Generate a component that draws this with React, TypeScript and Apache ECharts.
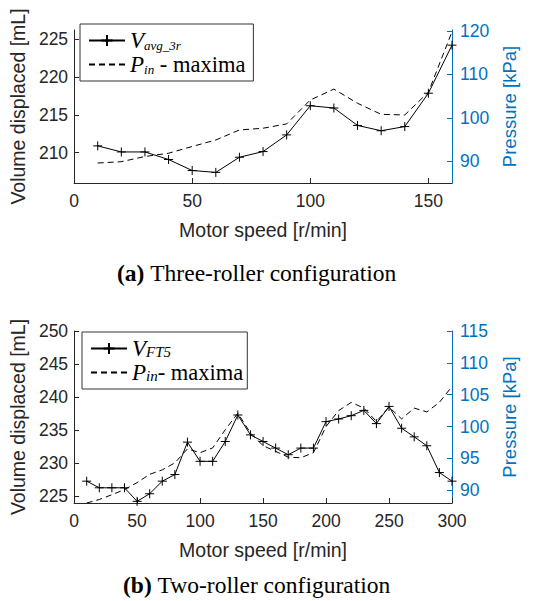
import React, { useEffect, useRef } from 'react';
import * as echarts from 'echarts';

// ---- Data: (a) Three-roller configuration ----
const speedA = [10, 20, 30, 40, 50, 60, 70, 80, 90, 100, 110, 120, 130, 140, 150, 160];
const volumeA = [210.9, 210.1, 210.1, 209.1, 207.65, 207.4, 209.4, 210.15, 212.35, 216.2, 215.9, 213.6, 212.9, 213.45, 217.85, 224.2];
const pressureA = [89.6, 89.9, 91.1, 91.85, 93.4, 94.9, 97.2, 97.6, 98.6, 104.1, 106.6, 103.35, 100.8, 100.65, 105.9, 119.8];

// ---- Data: (b) Two-roller configuration ----
const speedB = [10, 20, 30, 40, 50, 60, 70, 80, 90, 100, 110, 120, 130, 140, 150, 160, 170, 180, 190, 200, 210, 220, 230, 240, 250, 260, 270, 280, 290, 300];
const volumeB = [227.3, 226.3, 226.3, 226.3, 224.25, 225.4, 227.3, 228.3, 233.2, 230.3, 230.3, 233.3, 237.3, 234.3, 233.3, 232.3, 231.3, 232.3, 232.3, 236.3, 236.7, 237.2, 238.0, 236.0, 238.6, 235.3, 234.0, 232.65, 228.6, 227.3];
const pressureB = [88.0, 88.55, 89.3, 90.1, 91.2, 92.5, 93.2, 94.3, 96.5, 95.9, 96.65, 99.5, 102.1, 99.0, 97.0, 96.1, 95.2, 95.1, 95.9, 100.0, 102.5, 103.8, 102.9, 100.8, 103.05, 101.2, 102.9, 102.3, 103.8, 106.3];

// ---- Tick labels ----
const xTicksA = [0, 50, 100, 150];
const volTicksA = [210, 215, 220, 225];
const presTicksA = [90, 100, 110, 120];
const xTicksB = [0, 50, 100, 150, 200, 250, 300];
const volTicksB = [225, 230, 235, 240, 245, 250];
const presTicksB = [90, 95, 100, 105, 110, 115];

const names = {
  vA: 'V_avg_3r',
  pA: 'P_in - maxima',
  vB: 'V_FT5',
  pB: 'P_in- maxima',
};

const axisColor = '#262626';
const blue = '#0072BD';
const sans = '"Liberation Sans", Arial, Helvetica, sans-serif';
const serif = '"Liberation Serif", "Times New Roman", serif';
const plus = 'path://M0,5L10,5M5,0L5,10';

function xAxis(gridIndex: number, max: number, ticks: number[]) {
  return {
    type: 'value',
    gridIndex,
    min: 0,
    max,
    name: 'Motor speed [r/min]',
    nameLocation: 'middle',
    nameGap: 37,
    nameTextStyle: { fontFamily: sans, fontSize: 19.5, color: axisColor },
    axisLine: { show: true, onZero: false, lineStyle: { color: axisColor, width: 1 } },
    axisTick: { show: true, inside: true, length: 5, customValues: ticks, lineStyle: { color: axisColor } },
    axisLabel: { customValues: ticks, fontFamily: sans, fontSize: 17.5, color: axisColor, margin: 9 },
    splitLine: { show: false },
  };
}

function yAxis(gridIndex: number, min: number, max: number, ticks: number[], right: boolean) {
  const color = right ? blue : axisColor;
  return {
    type: 'value',
    gridIndex,
    position: right ? 'right' : 'left',
    min,
    max,
    name: right ? 'Pressure [kPa]' : 'Volume displaced [mL]',
    nameLocation: 'middle',
    nameGap: right ? 41 : 43,
    nameTextStyle: { fontFamily: sans, fontSize: right ? 18.5 : 19.5, color },
    axisLine: { show: true, onZero: false, lineStyle: { color, width: 1 } },
    axisTick: { show: true, inside: true, length: 5, customValues: ticks, lineStyle: { color } },
    axisLabel: { customValues: ticks, fontFamily: sans, fontSize: 17.5, color, margin: right ? 8 : 6 },
    splitLine: { show: false },
  };
}

function volSeries(name: string, xi: number, yi: number, xs: number[], ys: number[]) {
  return {
    type: 'line',
    name,
    xAxisIndex: xi,
    yAxisIndex: yi,
    data: xs.map((x, i) => [x, ys[i]]),
    symbol: plus,
    symbolSize: 9,
    showSymbol: true,
    lineStyle: { color: '#000', width: 1 },
    itemStyle: { color: 'none', borderColor: '#000', borderWidth: 1 },
    z: 4,
  };
}

function presSeries(name: string, xi: number, yi: number, xs: number[], ys: number[]) {
  return {
    type: 'line',
    name,
    xAxisIndex: xi,
    yAxisIndex: yi,
    data: xs.map((x, i) => [x, ys[i]]),
    symbol: 'none',
    lineStyle: { color: '#000', width: 1, type: [6, 4] },
    itemStyle: { color: '#000' },
    z: 3,
  };
}

const legendRich = (subSize: number) => ({
  i: { fontFamily: serif, fontStyle: 'italic', fontSize: 23, lineHeight: 22, color: '#000' },
  s: { fontFamily: serif, fontStyle: 'italic', fontSize: subSize, lineHeight: 8, verticalAlign: 'bottom', color: '#000' },
  r: { fontFamily: serif, fontSize: 22.5, lineHeight: 22, color: '#000' },
});

const legendText: Record<string, string> = {
  [names.vA]: '{i|V}{s|avg_3r}',
  [names.pA]: '{i|P}{s|in}{r| - maxima}',
  [names.vB]: '{i|V}{s|FT5}',
  [names.pB]: '{i|P}{s|in}{r|- maxima}',
};

function legend(left: number, top: number, vName: string, pName: string, subSize: number, padRight: number) {
  return {
    orient: 'vertical',
    left,
    top,
    padding: [5, padRight, 5, 8],
    itemWidth: 36,
    itemHeight: 14,
    itemGap: 1,
    borderColor: '#333',
    borderWidth: 1,
    backgroundColor: '#fff',
    selectedMode: false,
    data: [{ name: vName }, { name: pName, itemStyle: { opacity: 0 } }],
    formatter: (n: string) => legendText[n] ?? n,
    textStyle: { color: '#000', fontFamily: serif, fontSize: 22, lineHeight: 22, rich: legendRich(subSize) },
  };
}

const captionRich = {
  b: { fontFamily: serif, fontWeight: 'bold', fontSize: 23.5, lineHeight: 24, color: '#000' },
  n: { fontFamily: serif, fontWeight: 'normal', fontSize: 23.5, lineHeight: 24, color: '#000' },
};

export default function App() {
  const ref = useRef<HTMLDivElement>(null);
  useEffect(() => {
    if (!ref.current) return;
    const chart = echarts.init(ref.current, undefined, { renderer: 'svg' });
    chart.setOption({
      animation: false,
      backgroundColor: '#fff',
      title: [
        { text: '{b|(a)} {n|Three-roller configuration}', left: 117, top: 261, padding: 0, textStyle: { fontWeight: 'normal', fontFamily: serif, fontSize: 23.5, rich: captionRich } },
        { text: '{b|(b)} {n|Two-roller configuration}', left: 123, top: 573, padding: 0, textStyle: { fontWeight: 'normal', fontFamily: serif, fontSize: 23.5, rich: captionRich } },
      ],
      grid: [
        { left: 73, top: 30, width: 379, height: 153, containLabel: false },
        { left: 73, top: 331, width: 379, height: 172, containLabel: false },
      ],
      xAxis: [xAxis(0, 160, xTicksA), xAxis(1, 300, xTicksB)],
      yAxis: [
        yAxis(0, 206, 226.2, volTicksA, false),
        yAxis(0, 85, 120.2, presTicksA, true),
        yAxis(1, 224, 250, volTicksB, false),
        yAxis(1, 88, 115, presTicksB, true),
      ],
      legend: [
        legend(80, 24, names.vA, names.pA, 13, 8),
        legend(82, 332, names.vB, names.pB, 15, 4),
      ],
      series: [
        volSeries(names.vA, 0, 0, speedA, volumeA),
        presSeries(names.pA, 0, 1, speedA, pressureA),
        volSeries(names.vB, 1, 2, speedB, volumeB),
        presSeries(names.pB, 1, 3, speedB, pressureB),
      ],
    });
    return () => chart.dispose();
  }, []);
  return <div ref={ref} style={{ position: 'absolute', left: 0, top: 0, width: 544, height: 601 }} />;
}
